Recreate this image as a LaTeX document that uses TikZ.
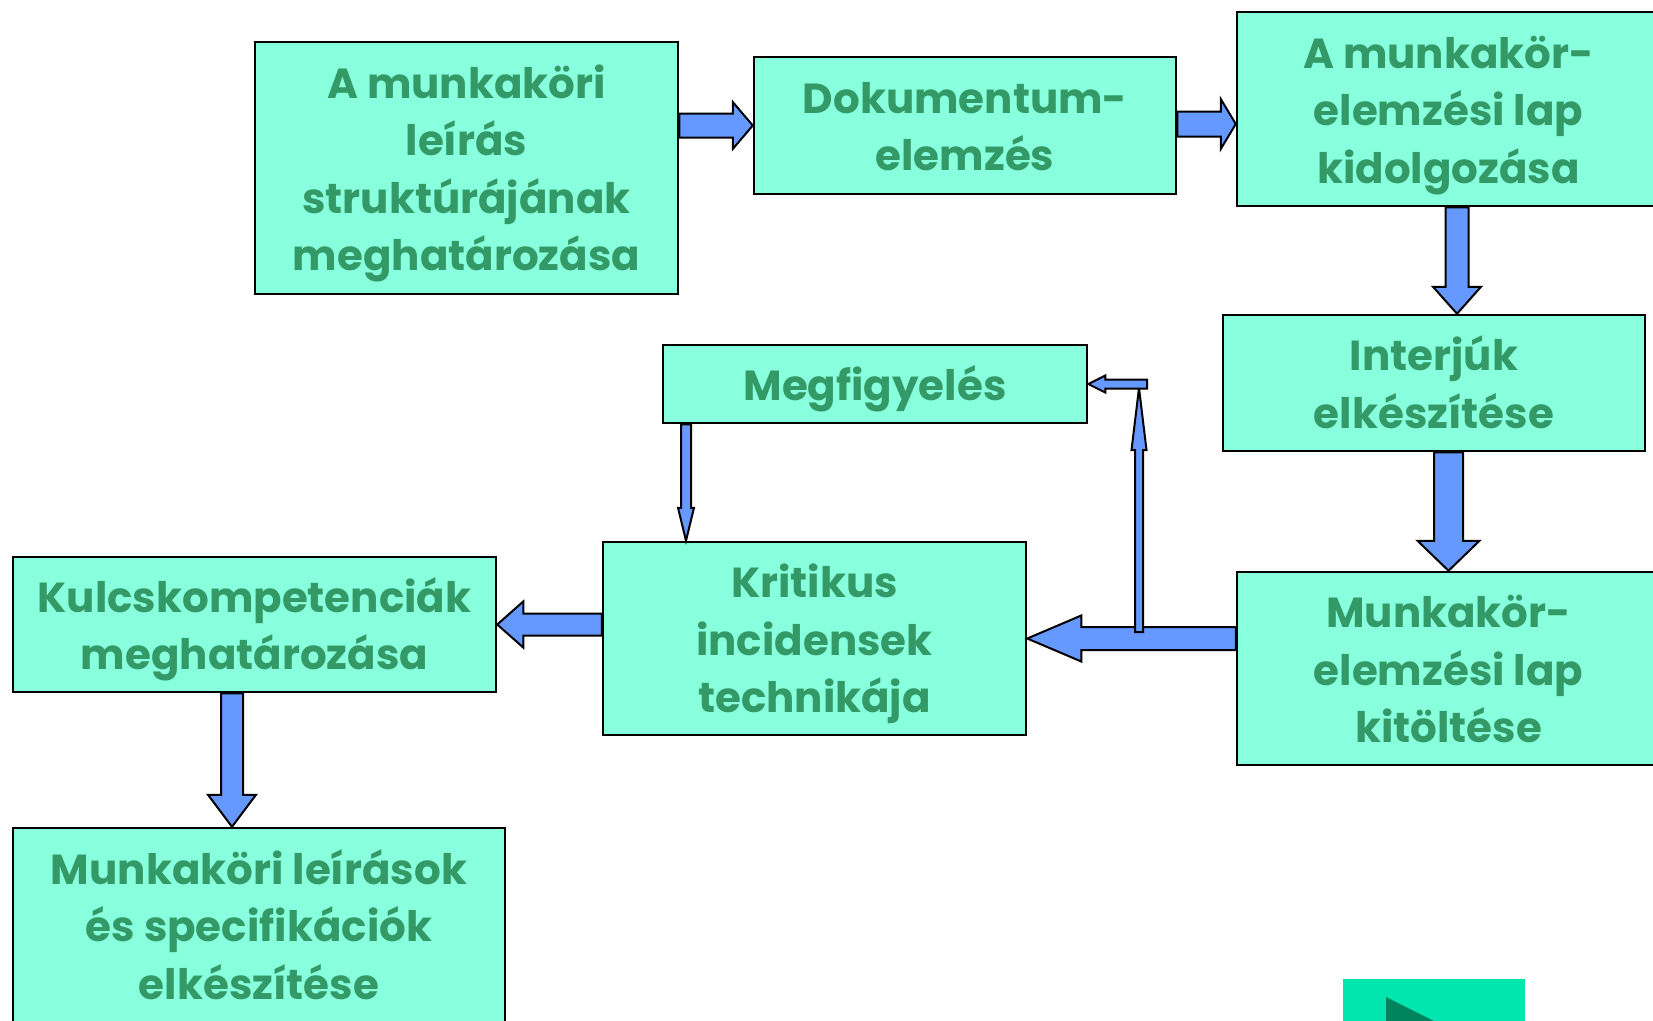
\documentclass[tikz,border=0pt]{standalone}
\usepackage{fontspec}
\setmainfont{Poppins}
\usetikzlibrary{calc}
\definecolor{boxfill}{HTML}{88FFDD}
\definecolor{txt}{HTML}{339966}
\definecolor{arrowblue}{HTML}{6699FF}
\definecolor{btn}{HTML}{00E6AE}
\definecolor{btndark}{HTML}{00845E}
\tikzset{
  box/.style={draw=black, line width=2.5pt, fill=boxfill, inner sep=0pt,
    text=txt, font=\bfseries\fontsize{42}{57.5}\selectfont},
  blockarrow/.style={fill=arrowblue, draw=black, line width=2pt, line join=miter}
}
\newcommand\boxtext[1]{\raisebox{-5pt}[\height][\depth]{\begin{tabular}{@{}c@{}}#1\end{tabular}}}
% horizontal block arrow: #1 tail, #2 tip, #3 shaft half, #4 head half, #5 head length
\newcommand\hblock[5]{%
  \filldraw[blockarrow] let \p1=(#1), \p2=(#2), \n1={sign(\x2-\x1)} in
   (\x1,{\y2+#3pt}) -- ({\x2-\n1*#5pt},{\y2+#3pt}) -- ({\x2-\n1*#5pt},{\y2+#4pt}) --
   (\x2,\y2) -- ({\x2-\n1*#5pt},{\y2-#4pt}) -- ({\x2-\n1*#5pt},{\y2-#3pt}) --
   (\x1,{\y2-#3pt}) -- cycle;}
% vertical block arrow
\newcommand\vblock[5]{%
  \filldraw[blockarrow] let \p1=(#1), \p2=(#2), \n1={sign(\y2-\y1)} in
   ({\x2+#3pt},\y1) -- ({\x2+#3pt},{\y2-\n1*#5pt}) -- ({\x2+#4pt},{\y2-\n1*#5pt}) --
   (\x2,\y2) -- ({\x2-#4pt},{\y2-\n1*#5pt}) -- ({\x2-#3pt},{\y2-\n1*#5pt}) --
   ({\x2-#3pt},\y1) -- cycle;}
\begin{document}
\begin{tikzpicture}[x=1pt,y=-1pt]
\useasboundingbox (0,0) rectangle (1653,1020);
\clip (0,0) rectangle (1653,1020);
\fill[white] (0,0) rectangle (1653,1020);

\node[box, minimum width=423pt, minimum height=252pt] (b1) at (466.5,168)
  {\boxtext{A munkaköri\\leírás\\struktúrájának\\meghatározása}};
\node[box, minimum width=422pt, minimum height=137pt] (b2) at (965,125.5)
  {\boxtext{Dokumentum-\\elemzés}};
\node[box, minimum width=423pt, minimum height=194pt] (b3) at (1448.5,109)
  {\boxtext{A munkakör-\\elemzési lap\\kidolgozása}};
\node[box, minimum width=422pt, minimum height=136pt] (b4) at (1434,383)
  {\boxtext{Interjúk\\elkészítése}};
\node[box, minimum width=423pt, minimum height=193pt] (b5) at (1448.5,668.5)
  {\boxtext{Munkakör-\\elemzési lap\\kitöltése}};
\node[box, minimum width=424pt, minimum height=78pt] (b6) at (875,384)
  {\boxtext{Megfigyelés}};
\node[box, minimum width=423pt, minimum height=193pt] (b7) at (814.5,638.5)
  {\boxtext{Kritikus\\incidensek\\technikája}};
\node[box, minimum width=483pt, minimum height=135pt] (b8) at (254.5,624.5)
  {\boxtext{Kulcskompetenciák\\meghatározása}};
\node[box, minimum width=492pt, minimum height=194pt] (b9) at (259,925)
  {\boxtext{Munkaköri leírások\\és specifikációk\\elkészítése}};

\coordinate (j) at (1139,632);
\coordinate (k) at (1139,388);
\coordinate (m) at (1147,384);

\hblock{b1.east}{b2.west}{12}{23.5}{20}
\hblock{b2.east}{[yshift=-15pt]b3.west}{12.5}{25}{15}
\vblock{b3.south}{[xshift=23pt]b4.north}{11.5}{24}{27}
\vblock{b4.south}{b5.north}{14.5}{31}{30}
\hblock{b5.west}{b7.east}{11.5}{23}{54}
\vblock{j}{k}{4}{7.5}{62}
\hblock{m}{b6.east}{4.5}{8.5}{17}
\vblock{b6.south}{[xshift=-128.5pt]b7.north}{5}{8}{33}
\hblock{b7.west}{b8.east}{11}{23}{26}
\vblock{b8.south}{[xshift=-27pt]b9.north}{11}{24}{32}

\node[fill=btn, minimum width=182pt, minimum height=60pt, inner sep=0pt] (btn) at (1434,1009) {};
\fill[btndark] (1386,997) -- (1478,1043) -- (1386,1089) -- cycle;
\end{tikzpicture}
\end{document}
